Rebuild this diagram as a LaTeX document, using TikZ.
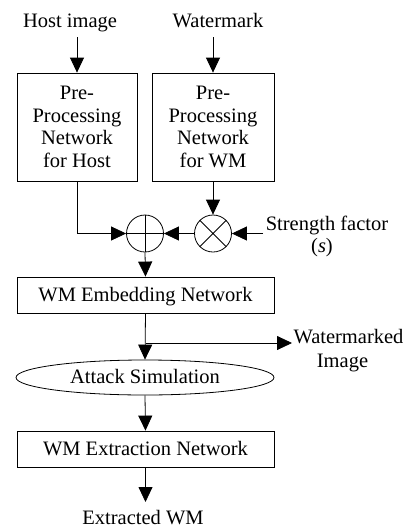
\documentclass[tikz,border=0pt]{standalone}
\usepackage{fontspec}
\setmainfont{Liberation Serif}
\usetikzlibrary{arrows.meta,shapes.geometric}
\begin{document}
\begin{tikzpicture}[x=1pt,y=-1pt, line width=0.8pt,
  every node/.style={font=\fontsize{20.5}{22.7}\selectfont, inner sep=0pt},
  arr/.style={-{Triangle[length=15pt,width=14pt]}},
  box/.style={draw, align=center},
  wide/.style={draw, minimum width=257pt, minimum height=36pt, text height=14pt, text depth=2pt},
  op/.style={draw, circle, minimum size=37pt},
  lbl/.style={anchor=base},
]
\useasboundingbox (0,0) rectangle (408,528);
\node[lbl] (host) at (70,27) {Host image};
\node[lbl] (wm) at (218,27) {Watermark};
\node[box, minimum width=120pt, minimum height=108pt] (pph) at (77,127) {Pre-\\Processing\\Network\\for Host};
\node[box, minimum width=122pt, minimum height=108pt] (ppw) at (213,127) {Pre-\\Processing\\Network\\for WM};
\coordinate (hs) at (77,37);
\coordinate (ws) at (213,37);
\draw[arr] (hs) -- (pph.north);
\draw[arr] (ws) -- (ppw.north);
\node[op] (plus) at (145,233.5) {};
\node[op] (times) at (213,233.5) {};
\draw (plus.north) -- (plus.south) (plus.west) -- (plus.east);
\draw (times.north west) -- (times.south east) (times.north east) -- (times.south west);
\draw[arr] (pph.south) |- (plus.west);
\draw[arr] (ppw.south) -- (times.north);
\draw[arr] (times.west) -- (plus.east);
\node[lbl] (sf) at (327,230) {Strength factor};
\node[lbl] (sfs) at (322,252) {(\textit{s})};
\coordinate (sfstart) at (263,233.5);
\draw[arr] (sfstart) -- (times.east);
\node[wide] (emb) at (145.5,295) {WM Embedding Network};
\draw[arr] (plus.south) -- (emb.north);
\node[draw, ellipse, minimum width=258pt, minimum height=35pt, text height=14pt, text depth=2pt] (att) at (145,377.5) {Attack Simulation};
\draw[arr] (emb.south) -- (att.north);
\coordinate (br) at (145.5,343);
\coordinate (wmtip) at (292,343);
\draw[arr] (br) -- (wmtip);
\node[lbl] (wmd) at (348.5,343) {Watermarked};
\node[lbl] (wmi) at (342.5,367) {Image};
\node[wide] (ext) at (145.5,449) {WM Extraction Network};
\draw[arr] (att.south) -- (ext.north);
\coordinate (etip) at (145.5,502);
\draw[arr] (ext.south) -- (etip);
\node[lbl] (out) at (143,524) {Extracted WM};
\end{tikzpicture}
\end{document}
